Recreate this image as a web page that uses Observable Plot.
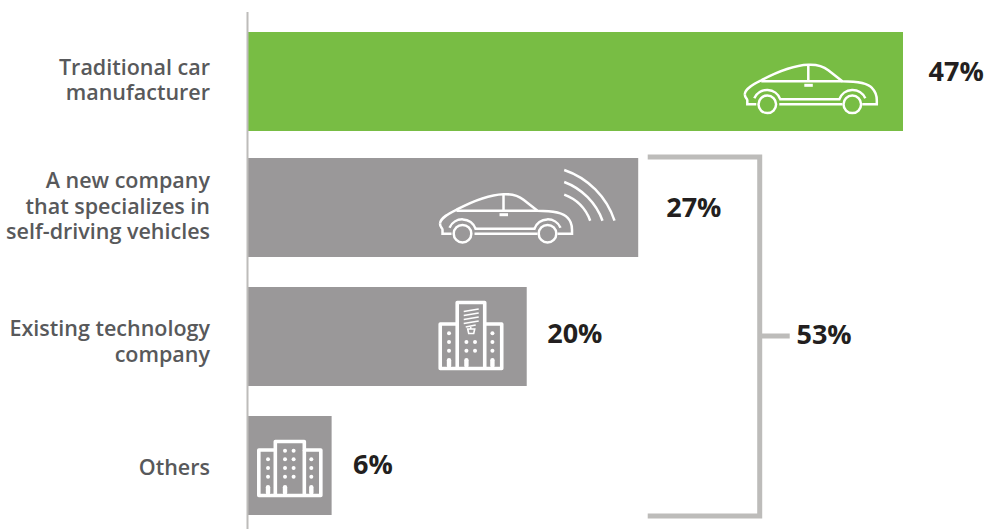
<!DOCTYPE html>
<html>
<head>
<meta charset="utf-8">
<script src="https://cdn.jsdelivr.net/npm/d3@7"></script>
<script src="https://cdn.jsdelivr.net/npm/@observablehq/plot@0.6"></script>
<style>
html,body{margin:0;padding:0;background:#fff}
svg{display:block}
</style>
</head>
<body>
<div id="chart"></div>
<script>
const categories = [
  "Traditional car\nmanufacturer",
  "A new company\nthat specializes in\nself-driving vehicles",
  "Existing technology\ncompany",
  "Others"
];
const barLengths = [47, 28, 20, 6];
const valueLabels = ["47%", "27%", "20%", "6%"];
const barColors = ["#78bd44", "#9a9899", "#9a9899", "#9a9899"];
const groupedTotal = "53%";

const rows = categories.map((category, i) => ({
  category, length: barLengths[i], label: valueLabels[i], color: barColors[i]
}));

const FONT = "'Open Sans', sans-serif";

const carSvg = `
<path d="M1.5,31 C1.5,25 12,20 18,17 C35,8 50,2 65,1.5 C75,1 80,3 85,7 L99,18 C112,18 125,20 129,25 C132,28 133.5,32 133.5,37 L133.5,41 L119,41"/>
<path d="M1.5,31 C1.5,35 4,35 4,37 L4,41 L13,41"/>
<path d="M18,18 L99,18 M65,2 L65,18"/>
<path d="M36,36 L97,36 M36,41 L99,41"/>
<path d="M11,35 A14,14 0 0 1 37,36 M96,36 A14,14 0 0 1 122,35"/>
<circle cx="24" cy="41" r="8.8"/><circle cx="109" cy="41" r="8.8"/>
<rect x="61" y="20.5" width="8.5" height="3" fill="#fff" stroke="none"/>`;

const wavesSvg = `
<path d="M125.7,-22.7 A80,80 0 0 1 176,28"/>
<path d="M125.7,-10.7 A65,65 0 0 1 164,28"/>
<path d="M125.7,2 A44,44 0 0 1 151.7,28"/>`;

function dots(xs, ys) {
  return xs.flatMap(x => ys.map(y => `<circle cx="${x}" cy="${y}" r="2" fill="#fff" stroke="none"/>`)).join("");
}
function doors(xs, top, bottom) {
  return xs.map(x => `<rect x="${x - 2.2}" y="${top}" width="4.4" height="${bottom - top}" rx="2.2" fill="#fff" stroke="none"/>`).join("");
}

const techSvg = `
<g stroke-width="3.6" stroke-linejoin="round">
<path d="M1.5,23 L18.5,23 L18.5,1.5 L46,1.5 L46,23 L63,23 L63,67.5 L1.5,67.5 Z"/>
<path d="M18.5,23 L18.5,67.5 M46,23 L46,67.5"/>
</g>
${dots([10.3, 53.7], [32.3, 41, 49.7])}${dots([27.7, 36.3], [41, 49.7])}
${doors([10.3, 27.7, 53.7], 57, 67)}
<g stroke-width="1.6">
<path d="M25,10.5 L40,8 M25,14.5 L40,12 M25,18.5 L40,16 M25,22.5 L40,20 M27,26 L37,24"/>
<path d="M32,26 L32,28 M29,28 L36,28 L35,32.5 L30,32.5 Z"/>
</g>`;

const officeSvg = `
<g stroke-width="3.6" stroke-linejoin="round">
<path d="M1.5,10 L18,10 L18,1.5 L47,1.5 L47,10 L63.5,10 L63.5,55.5 L1.5,55.5 Z"/>
<path d="M18,10 L18,55.5 M47,10 L47,55.5"/>
</g>
${dots([10.7, 54], [19.3, 28, 36.7])}${dots([27.7, 36.3], [10.7, 19.3, 28, 36.7])}
${doors([10.7, 27.7, 54], 45, 55)}`;

const icons = [
  {row: 0, back: 159.7, down: 32.3, svg: carSvg},
  {row: 1, back: 199.7, down: 33.7, svg: carSvg + wavesSvg},
  {row: 2, back: 88, down: 14, svg: techSvg},
  {row: 3, back: 74.3, down: 25, svg: officeSvg}
];

function iconMark(index, scales) {
  const g = d3.create("svg:g").attr("fill", "none").attr("stroke", "#fff").attr("stroke-width", 2.5);
  for (const ic of icons) {
    const r = rows[ic.row];
    g.append("g")
      .attr("transform", `translate(${scales.x(r.length) - ic.back},${scales.y(r.category) + ic.down})`)
      .html(ic.svg);
  }
  return g.node();
}

function bracketMark(index, scales) {
  const left = scales.x(rows[1].length) + 9.5;
  const right = left + 112;
  const top = scales.y(rows[1].category) - 2;
  const bottom = scales.y(rows[3].category) + scales.y.bandwidth() + 2;
  const mid = scales.y(rows[2].category) + 49;
  const g = d3.create("svg:g").attr("fill", "none").attr("stroke", "#bdbcba").attr("stroke-width", 5);
  g.append("path").attr("d", `M${left},${top} H${right} V${bottom} H${left} M${right},${mid} H${right + 30}`);
  return g.node();
}

const barDy = [1, -1, 0, 1];
const catDy = [-1.5, -3.5, 4, 2];
const valDy = [-9, -0.5, -2.5, 0.5];
const valDx = [25, 27.5, 20, 21];

const plot = Plot.plot({
  width: 984,
  height: 529,
  marginTop: 12, marginBottom: 0, marginLeft: 0, marginRight: 0,
  style: {background: "#fff", fontFamily: FONT},
  x: {axis: null, domain: [0, 47], range: [248, 903]},
  y: {axis: null, domain: categories, range: [31, 514], paddingInner: 29 / 128, paddingOuter: 0, align: 0.5},
  marks: [
    ...rows.map((r, i) => Plot.barX([r], {x: "length", y: "category", fill: "color", dy: barDy[i]})),
    iconMark,
    bracketMark,
    Plot.ruleX([0], {dx: -1, stroke: "#bdbcba", strokeWidth: 2}),
    ...rows.map((r, i) => Plot.text([r], {
      x: 0, y: "category", text: "category", textAnchor: "end",
      dx: -38.5, dy: catDy[i], lineHeight: 1.185,
      fontSize: 21.5, fontWeight: 600, fill: "#58595b", fontFamily: FONT
    })),
    ...rows.map((r, i) => Plot.text([r], {
      x: "length", y: "category", text: "label", textAnchor: "start",
      dx: valDx[i], dy: valDy[i],
      fontSize: 27, fontWeight: 700, fill: "#231f20", fontFamily: FONT
    })),
    Plot.text([groupedTotal], {
      x: 39.32, y: () => categories[2], text: d => d, textAnchor: "start", dy: -2,
      fontSize: 27, fontWeight: 700, fill: "#231f20", fontFamily: FONT
    })
  ]
});
document.getElementById("chart").append(plot);
</script>
</body>
</html>
